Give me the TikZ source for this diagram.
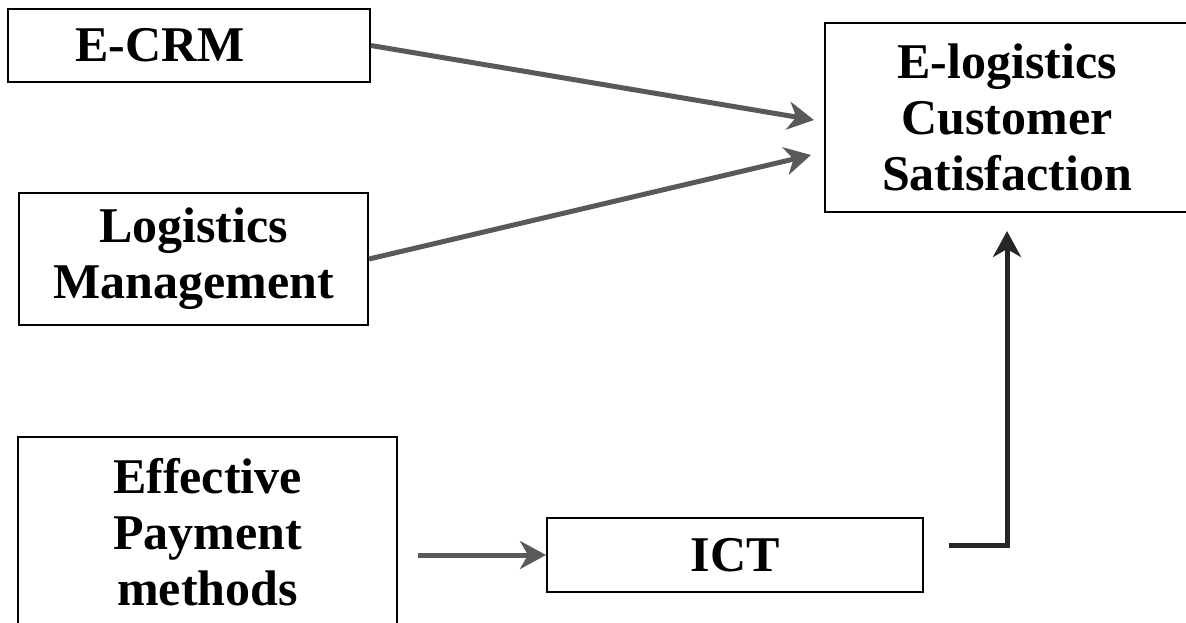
\documentclass[tikz,border=0pt]{standalone}
\usepackage{fontspec}
\setmainfont{Liberation Serif}
\usetikzlibrary{arrows.meta}

\begin{document}
\begin{tikzpicture}[x=0.5pt,y=-0.5pt]
                        \tikzstyle{box}=[draw, line width=1pt, font=\bfseries\fontsize{25}{28}\selectfont, align=center, inner sep=0pt]
                        \tikzstyle{arrowline}=[draw=black!65, line width=2.5pt, -{Stealth[length=13pt, width=14pt, inset=4pt]}]
                        \useasboundingbox (0,0) rectangle (1186,622);
                        \clip (0,0) rectangle (1186,622);
                        \node[box, minimum width=181pt, minimum height=36.5pt, text width=181pt, align=left] (ecrm) at (189,45.5) {\hspace*{33.5pt}E-CRM};
                        \node[box, minimum width=174.5pt, minimum height=66pt] (logman) at (193.5,259) {Logistics\\Management};
                        \node[box, minimum width=189.5pt, minimum height=95pt] (payment) at (207.5,532) {Effective\\Payment\\methods};
                        \node[box, minimum width=188pt, minimum height=37pt] (ict) at (735,555) {ICT};
                        \node[box, minimum width=182pt, minimum height=94.5pt] (satisf) at (1007,117.5) {E-logistics\\Customer\\Satisfaction};
                        \draw[arrowline] (ecrm.east) -- ([xshift=-5pt,yshift=-1.25pt]satisf.west);
                        \draw[arrowline] (logman.east) -- ([xshift=-6.5pt,yshift=-18.75pt]satisf.west);
                        \draw[arrowline] ([xshift=10pt]payment.east |- ict.west) -- (ict.west);
                        \draw[arrowline, draw=black!85] ([xshift=12.5pt,yshift=5pt]ict.east) -| ([yshift=-9pt]satisf.south);
                    \end{tikzpicture}
\end{document}
